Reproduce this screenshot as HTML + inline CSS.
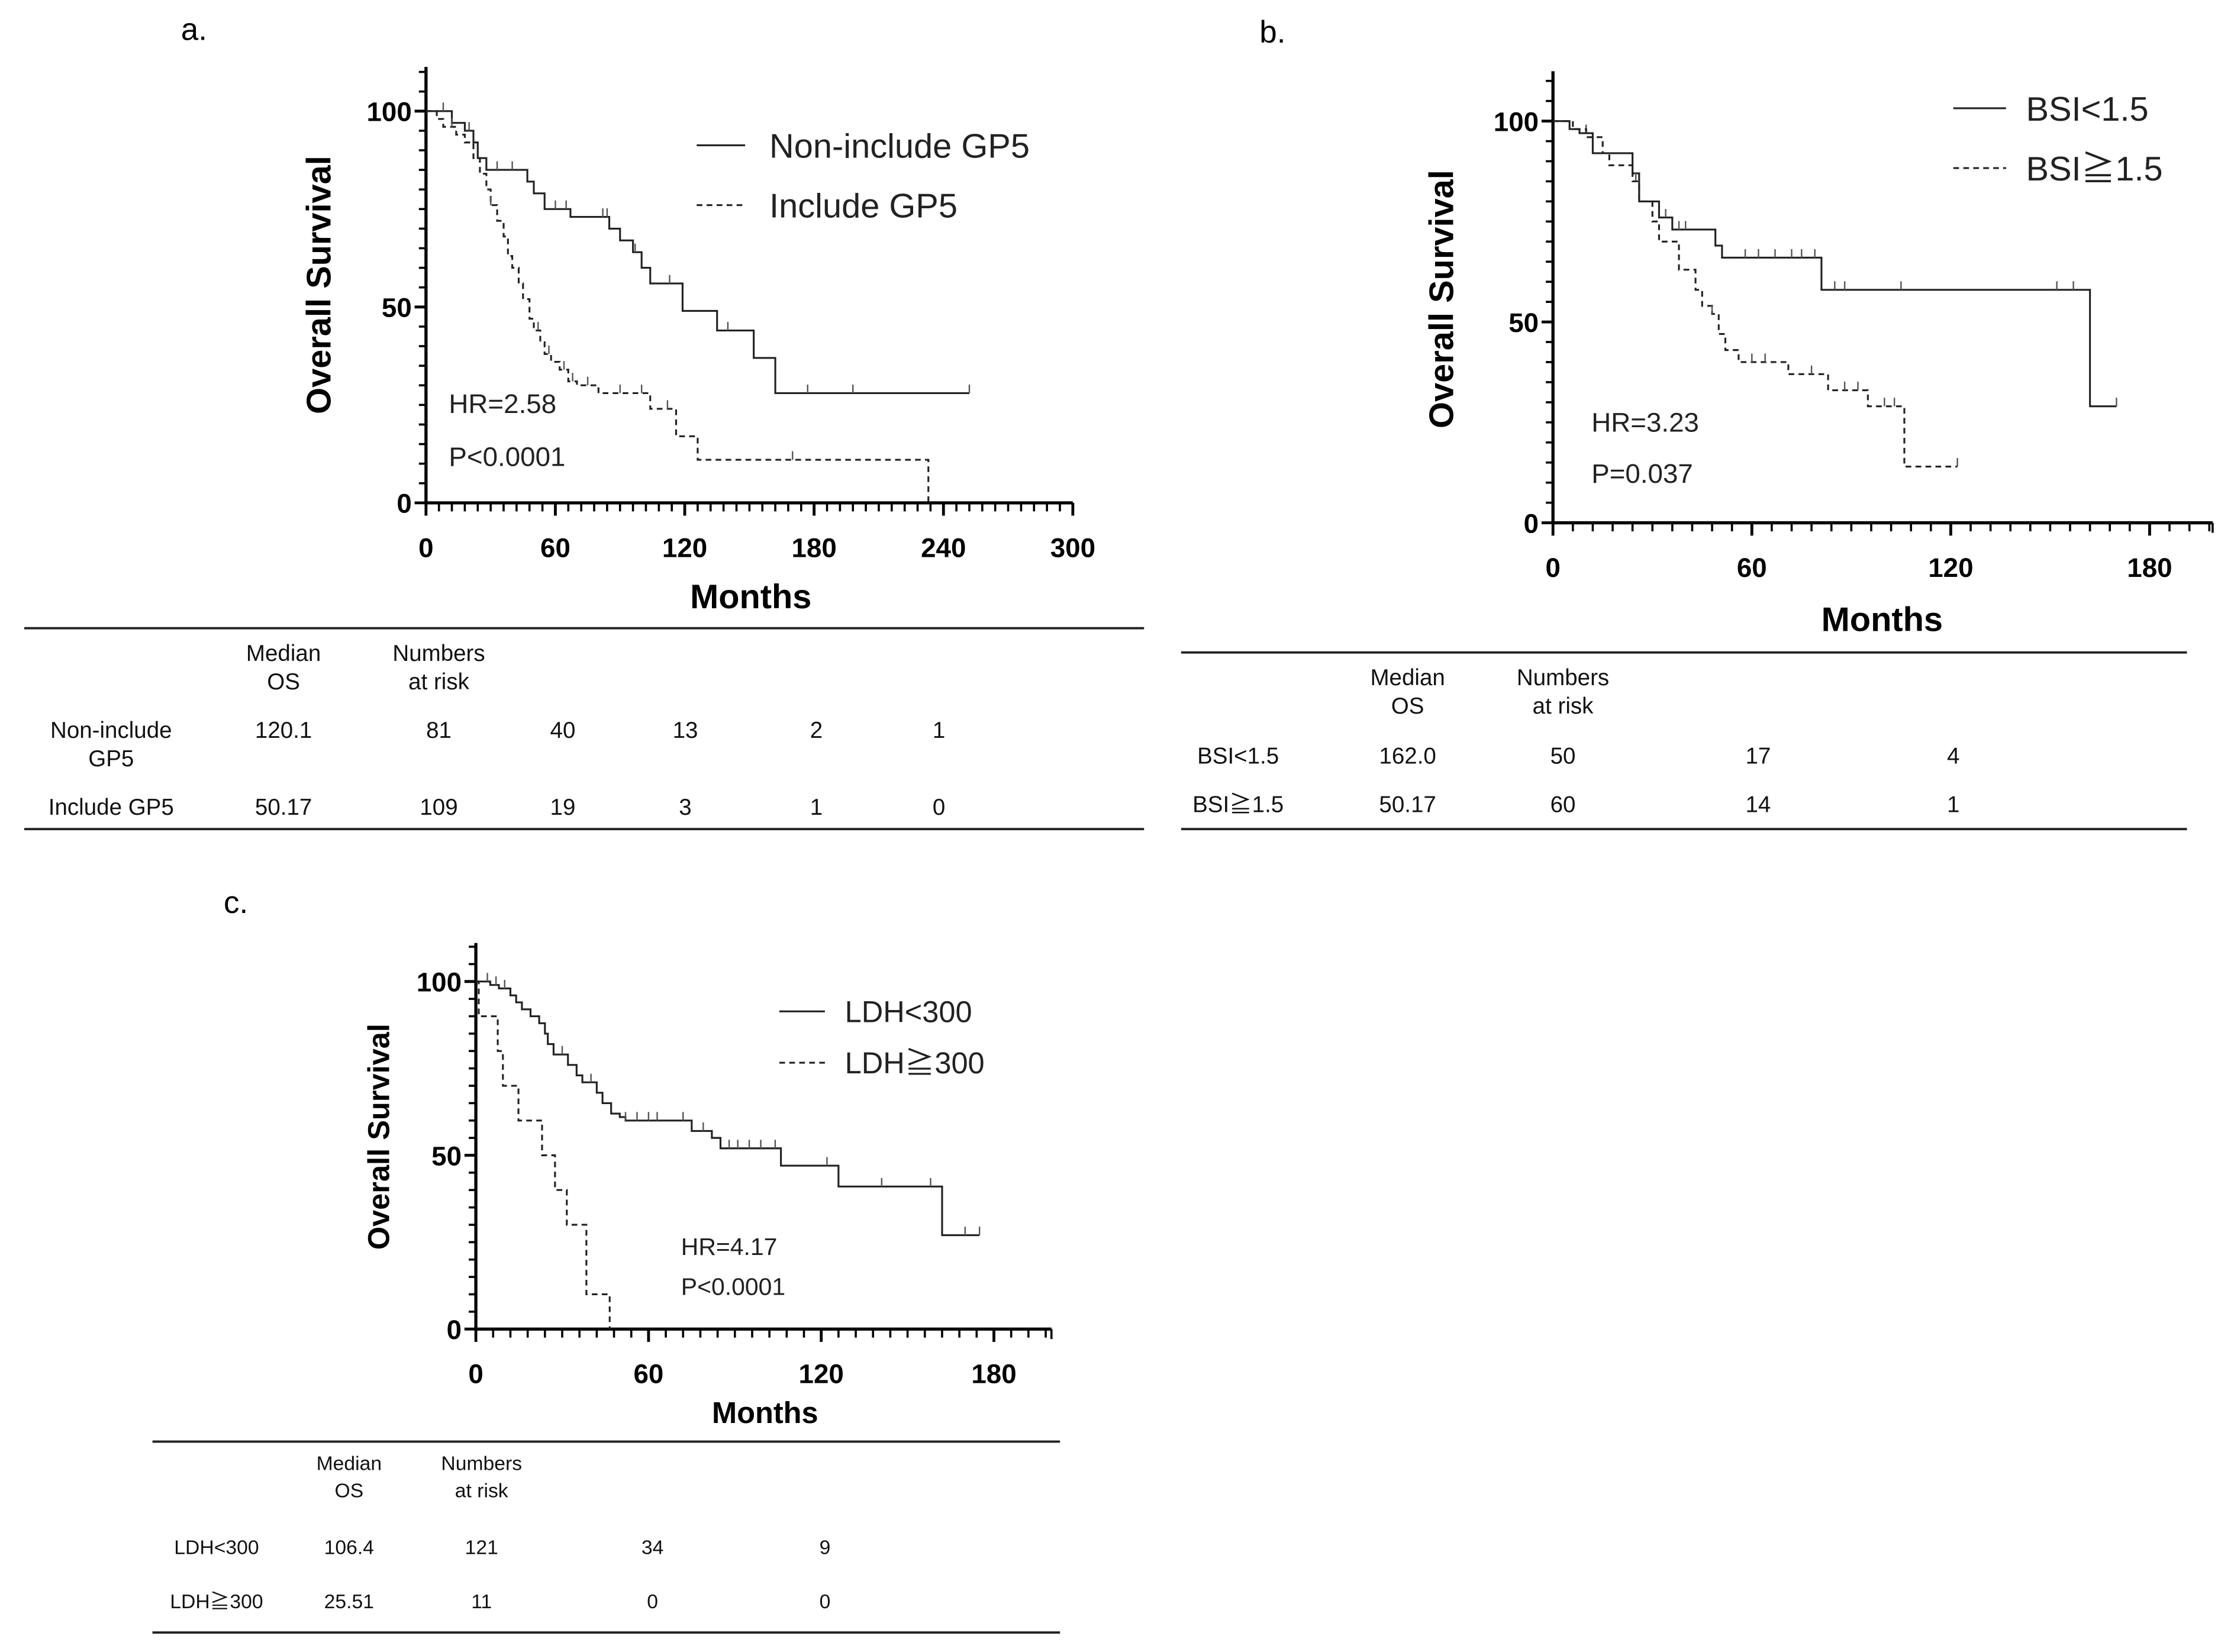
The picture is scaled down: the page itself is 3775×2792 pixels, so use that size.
<!DOCTYPE html>
<html><head><meta charset="utf-8"><style>
html,body{margin:0;padding:0;background:#fff;}
svg{display:block;font-family:"Liberation Sans","Noto Sans CJK JP",sans-serif;}
</style></head><body>
<svg id="fig" width="3775" height="2792" viewBox="0 0 1568 1159.7" xmlns="http://www.w3.org/2000/svg">
<rect width="1568" height="1160" fill="#fff"/>
<text x="127" y="28" font-size="22">a.</text>
<text x="884" y="30" font-size="22">b.</text>
<text x="157" y="641" font-size="22">c.</text>

<g font-size="16" text-anchor="middle" fill="#111">
<line x1="17" y1="441" x2="803" y2="441" stroke="#222" stroke-width="1.6"/>
<line x1="17" y1="582" x2="803" y2="582" stroke="#222" stroke-width="1.6"/>
<text x="199" y="464">Median</text><text x="199" y="484">OS</text>
<text x="308" y="464">Numbers</text><text x="308" y="484">at risk</text>
<text x="78" y="518">Non-include</text><text x="78" y="538">GP5</text>
<text x="199" y="518">120.1</text><text x="308" y="518">81</text><text x="395" y="518">40</text><text x="481" y="518">13</text><text x="573" y="518">2</text><text x="659" y="518">1</text>
<text x="78" y="572">Include GP5</text>
<text x="199" y="572">50.17</text><text x="308" y="572">109</text><text x="395" y="572">19</text><text x="481" y="572">3</text><text x="573" y="572">1</text><text x="659" y="572">0</text>
</g>
<g font-size="16" text-anchor="middle" fill="#111">
<line x1="829" y1="458" x2="1535" y2="458" stroke="#222" stroke-width="1.6"/>
<line x1="829" y1="582" x2="1535" y2="582" stroke="#222" stroke-width="1.6"/>
<text x="988" y="481">Median</text><text x="988" y="501">OS</text>
<text x="1097" y="481">Numbers</text><text x="1097" y="501">at risk</text>
<text x="869" y="536">BSI&lt;1.5</text><text x="988" y="536">162.0</text><text x="1097" y="536">50</text><text x="1234" y="536">17</text><text x="1371" y="536">4</text>
<text x="869" y="570">BSI≧1.5</text><text x="988" y="570">50.17</text><text x="1097" y="570">60</text><text x="1234" y="570">14</text><text x="1371" y="570">1</text>
</g>
<g font-size="14" text-anchor="middle" fill="#111">
<line x1="107" y1="1012" x2="744" y2="1012" stroke="#222" stroke-width="1.6"/>
<line x1="107" y1="1146" x2="744" y2="1146" stroke="#222" stroke-width="1.6"/>
<text x="245" y="1032">Median</text><text x="245" y="1051">OS</text>
<text x="338" y="1032">Numbers</text><text x="338" y="1051">at risk</text>
<text x="152" y="1091">LDH&lt;300</text><text x="245" y="1091">106.4</text><text x="338" y="1091">121</text><text x="458" y="1091">34</text><text x="579" y="1091">9</text>
<text x="152" y="1129">LDH≧300</text><text x="245" y="1129">25.51</text><text x="338" y="1129">11</text><text x="458" y="1129">0</text><text x="579" y="1129">0</text>
</g>
</svg>
<script>
// ---- Panel a data ----
const aXTicks = [0, 60, 120, 180, 240, 300];
const aYTicks = [0, 50, 100];
const aNonT = [0, 12, 18, 22, 24, 28, 47, 50, 55, 67, 85, 90, 96, 100, 104, 119, 135, 152, 162, 252];
const aNonS = [100, 97, 95, 92, 88, 85, 82, 79, 75, 73, 70, 67, 64, 60, 56, 49, 44, 37, 28, 28];
const aNonCens = [8, 20, 33, 40, 60, 65, 82, 84, 97, 113, 140, 177, 198, 252];
const aIncT = [0, 5, 8, 14, 18, 22, 25, 28, 30, 33, 36, 38, 40, 43, 45, 48, 50, 53, 55, 58, 62, 66, 70, 80, 104, 116, 126, 233];
const aIncS = [100, 98, 96, 94, 92, 88, 84, 80, 76, 72, 68, 63, 60, 56, 52, 47, 44, 41, 38, 36, 34, 31, 30, 28, 24, 17, 11, 0];
const aIncCens = [12, 30, 52, 57, 64, 68, 75, 90, 100, 112, 170];
// ---- Panel b data ----
const bXTicks = [0, 60, 120, 180];
const bYTicks = [0, 50, 100];
const bLowT = [0, 5, 8, 12, 24, 26, 32, 36, 49, 51, 81, 162, 170];
const bLowS = [100, 98, 97, 92, 87, 80, 76, 73, 69, 66, 58, 29, 29];
const bLowCens = [10, 34, 38, 40, 58, 62, 67, 72, 75, 79, 85, 88, 105, 152, 157, 170];
const bHighT = [0, 6, 10, 15, 17, 24, 26, 30, 32, 38, 43, 45, 48, 50, 52, 56, 71, 83, 95, 106, 122];
const bHighS = [100, 98, 96, 92, 89, 85, 80, 75, 70, 63, 58, 54, 52, 47, 43, 40, 37, 33, 29, 14, 14];
const bHighCens = [25, 48, 60, 64, 78, 88, 92, 100, 103, 122];
// ---- Panel c data ----
const cXTicks = [0, 60, 120, 180];
const cYTicks = [0, 50, 100];
const cLowT = [0, 5, 8, 12, 14, 16, 19, 22, 24, 25, 27, 32, 35, 37, 42, 44, 47, 50, 52, 75, 82, 85, 106, 126, 162, 175];
const cLowS = [100, 99, 98, 96, 94, 92, 90, 88, 85, 82, 79, 76, 73, 71, 68, 65, 62, 61, 60, 57, 55, 52, 47, 41, 27, 27];
const cLowCens = [4, 7, 10, 30, 40, 52, 56, 60, 63, 72, 79, 88, 91, 95, 99, 104, 122, 141, 158, 170, 175];
const cHighT = [0, 1, 7.6, 9.4, 14.8, 23, 27.5, 31.6, 38.4, 46.5];
const cHighS = [100, 90, 80, 70, 60, 50, 40, 30, 10, 0];
const cHighCens = [];

const NS = 'http://www.w3.org/2000/svg';
const svg = document.getElementById('fig');
function mk(tag, attrs, parent) {
  const e = document.createElementNS(NS, tag);
  for (const k in attrs) e.setAttribute(k, attrs[k]);
  (parent || svg).appendChild(e);
  return e;
}
function panel(cfg) {
  const g = mk('g', {});
  
  
  const X = t => cfg.x0 + (t - cfg.xmin) / (cfg.xmax - cfg.xmin) * (cfg.x1 - cfg.x0);
  const Y = s => cfg.y0 + (s / 100) * (cfg.y100 - cfg.y0);
  const ya = mk('line', {x1: cfg.x0, y1: cfg.ytop, x2: cfg.x0, y2: cfg.y0, stroke: '#000', 'stroke-width': 2.2}, g);
  
  
  for (let v = 0; v <= 110; v += 5) {
    const y = Y(v);
    if (y < cfg.ytop) break;
    const major = v % 50 === 0;
    mk('line', {x1: cfg.x0 - (major ? 8 : 5), y1: y, x2: cfg.x0, y2: y, stroke: '#000', 'stroke-width': major ? 2 : 1.5}, g);
  }
  cfg.yt.forEach(v => {
    const t = mk('text', {x: cfg.x0 - 10, y: Y(v) + 7, 'font-size': 19, 'font-weight': 'bold', 'text-anchor': 'end'}, g);
    
    
    t.textContent = v;
  });
  const xa = mk('line', {x1: cfg.x0 - 1, y1: cfg.y0, x2: cfg.x1, y2: cfg.y0, stroke: '#000', 'stroke-width': 2.2}, g);
  
  
  for (let m = 0; m <= cfg.xmax + 0.01; m += 6) {
    const major = m % 60 === 0;
    mk('line', {x1: X(m), y1: cfg.y0, x2: X(m), y2: cfg.y0 + (major ? 9 : 6), stroke: '#000', 'stroke-width': major ? 2 : 1.5}, g);
  }
  mk('line', {x1: cfg.x1, y1: cfg.y0, x2: cfg.x1, y2: cfg.y0 + 7, stroke: '#000', 'stroke-width': 1.5}, g);
  cfg.xt.forEach(v => {
    const t = mk('text', {x: X(v), y: cfg.y0 + 38, 'font-size': 19, 'font-weight': 'bold', 'text-anchor': 'middle'}, g);
    
    
    t.textContent = v;
  });
  const xt = mk('text', {x: cfg.mx, y: cfg.my, 'font-size': cfg.fs, 'font-weight': 'bold', 'text-anchor': 'middle'}, g);
  
  
  xt.textContent = 'Months';
  const yt = mk('text', {x: 0, y: 0, 'font-size': cfg.fs, 'font-weight': 'bold', 'text-anchor': 'middle', transform: `translate(${cfg.ox},${cfg.oy}) rotate(-90)`}, g);
  
  
  yt.textContent = 'Overall Survival';
  cfg.series.forEach(s => {
    let d = `M${X(s.t[0])},${Y(s.s[0])}`;
    for (let i = 1; i < s.t.length; i++) {
      d += ` H${X(s.t[i])}`;
      if (i < s.s.length) d += ` V${Y(s.s[i])}`;
    }
    const p = mk('path', {d: d, fill: 'none', stroke: '#222', 'stroke-width': 1.3}, g);
    if (s.dash) p.setAttribute('stroke-dasharray', '4,3');
    
    
    s.c.forEach(ct => {
      let v = s.s[0];
      for (let i = 0; i < s.s.length; i++) if (s.t[i] <= ct) v = s.s[i];
      const m = mk('line', {x1: X(ct), y1: Y(v) - 6, x2: X(ct), y2: Y(v), stroke: '#555', 'stroke-width': 1}, g);
      
      
    });
    const ll = mk('line', {x1: s.lx1, y1: s.ly, x2: s.lx2, y2: s.ly, stroke: '#222', 'stroke-width': 1.3}, g);
    if (s.dash) ll.setAttribute('stroke-dasharray', '4,3');
    
    
    const lt = mk('text', {x: s.tx, y: s.ly + s.lfs * 0.36, 'font-size': s.lfs, fill: '#222'}, g);
    
    
    lt.textContent = s.label;
  });
  cfg.notes.forEach(n => {
    const t = mk('text', {x: n[0], y: n[1], 'font-size': cfg.nfs, fill: '#222'}, g);
    
    
    t.textContent = n[2];
  });
}
panel({name: 'panel-a-chart', x0: 299, x1: 753, xmin: 0, xmax: 300, y0: 353, y100: 78, ytop: 47,
  xt: aXTicks, yt: aYTicks, mx: 527, my: 427, fs: 24, ox: 232, oy: 200, nfs: 19,
  notes: [[315, 290, 'HR=2.58', 'hazard-ratio'], [315, 327, 'P<0.0001', 'p-value']],
  series: [
    {name: 'non-include-gp5', t: aNonT, s: aNonS, c: aNonCens, dash: false, lx1: 489, lx2: 523, ly: 102, tx: 540, label: 'Non-include GP5', lfs: 24},
    {name: 'include-gp5', t: aIncT, s: aIncS, c: aIncCens, dash: true, lx1: 489, lx2: 523, ly: 144, tx: 540, label: 'Include GP5', lfs: 24}
  ]});
panel({name: 'panel-b-chart', x0: 1090, x1: 1553, xmin: 0, xmax: 199, y0: 367, y100: 85, ytop: 50,
  xt: bXTicks, yt: bYTicks, mx: 1321, my: 443, fs: 24, ox: 1020, oy: 210, nfs: 19,
  notes: [[1117, 303, 'HR=3.23', 'hazard-ratio'], [1117, 339, 'P=0.037', 'p-value']],
  series: [
    {name: 'bsi-low', t: bLowT, s: bLowS, c: bLowCens, dash: false, lx1: 1371, lx2: 1408, ly: 76, tx: 1422, label: 'BSI<1.5', lfs: 24},
    {name: 'bsi-high', t: bHighT, s: bHighS, c: bHighCens, dash: true, lx1: 1371, lx2: 1408, ly: 118, tx: 1422, label: 'BSI≧1.5', lfs: 24}
  ]});
panel({name: 'panel-c-chart', x0: 334, x1: 738, xmin: 0, xmax: 200, y0: 933, y100: 689, ytop: 662,
  xt: cXTicks, yt: cYTicks, mx: 537, my: 999, fs: 21, ox: 273, oy: 798, nfs: 17,
  notes: [[478, 881, 'HR=4.17', 'hazard-ratio'], [478, 909, 'P<0.0001', 'p-value']],
  series: [
    {name: 'ldh-low', t: cLowT, s: cLowS, c: cLowCens, dash: false, lx1: 547, lx2: 579, ly: 710, tx: 593, label: 'LDH<300', lfs: 21},
    {name: 'ldh-high', t: cHighT, s: cHighS, c: cHighCens, dash: true, lx1: 547, lx2: 579, ly: 746, tx: 593, label: 'LDH≧300', lfs: 21}
  ]});
</script>
</body></html>
